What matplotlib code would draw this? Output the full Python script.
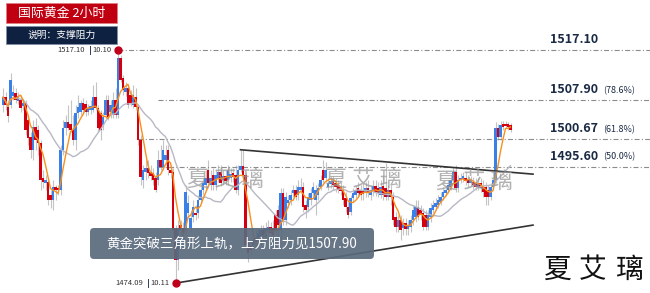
import matplotlib
matplotlib.use('Agg')
import matplotlib.pyplot as plt
from matplotlib.patches import Rectangle, FancyBboxPatch
import numpy as np
import pandas as pd

plt.rcParams['font.family'] = ['Noto Sans CJK SC', 'DejaVu Sans']

## 2-hour gold candles (price, USD)
opens = [
    1506.9, 1508.4, 1506.6, 1506.9, 1508.6, 1509.2, 1507.7, 1507.9, 1506.8, 1507.3,
    1504.2, 1501.1, 1498.7, 1502.9, 1502.4, 1500.0, 1493.5, 1492.6, 1492.7, 1490.4,
    1489.4, 1491.8, 1491.6, 1491.3, 1498.7, 1502.7, 1503.8, 1503.5, 1502.4, 1500.5,
    1505.5, 1505.7, 1507.3, 1507.1, 1505.7, 1506.0, 1506.0, 1508.4, 1506.4, 1505.5,
    1503.3, 1505.1, 1507.9, 1505.7, 1505.1, 1507.9, 1505.1, 1515.6, 1511.9, 1509.4,
    1510.1, 1508.8, 1506.9, 1508.4, 1506.6, 1500.5, 1493.1, 1494.6, 1495.3, 1494.6,
    1494.4, 1493.5, 1493.1, 1496.8, 1495.5, 1496.8, 1498.7, 1495.0, 1494.6, 1484.3,
    1478.4, 1484.8, 1484.3, 1483.9, 1487.0, 1484.3, 1486.3, 1487.0, 1487.0, 1489.4,
    1491.3, 1492.2, 1495.0, 1492.2, 1494.0, 1492.2, 1493.5, 1494.6, 1493.1, 1493.9,
    1493.1, 1493.5, 1494.4, 1494.0, 1491.3, 1495.0, 1495.7, 1494.0, 1481.5, 1480.9,
    1481.1, 1482.4, 1482.0, 1482.6, 1483.9, 1482.6, 1483.5, 1484.5, 1484.3, 1486.7,
    1487.6, 1483.9, 1490.7, 1485.7, 1488.9, 1489.4, 1490.7, 1491.3, 1490.4, 1491.3,
    1491.8, 1488.5, 1488.1, 1489.4, 1490.7, 1489.4, 1490.4, 1491.8, 1495.0, 1493.5,
    1491.8, 1492.4, 1492.9, 1492.6, 1492.2, 1491.8, 1491.3, 1489.8, 1488.1, 1487.2,
    1489.8, 1490.4, 1491.6, 1491.3, 1491.3, 1490.7, 1491.6, 1490.4, 1490.9, 1492.0,
    1491.6, 1490.4, 1492.0, 1491.6, 1490.0, 1491.3, 1490.0, 1486.3, 1484.5, 1485.7,
    1484.3, 1485.2, 1484.1, 1484.5, 1485.7, 1486.3, 1488.1, 1487.6, 1487.0, 1486.7,
    1484.5, 1486.3, 1487.6, 1488.1, 1488.5, 1489.1, 1490.0, 1490.7, 1491.3, 1491.8,
    1493.1, 1494.6, 1491.6, 1493.1, 1493.3, 1493.5, 1493.1, 1492.6, 1492.7, 1492.6,
    1491.8, 1492.6, 1491.8, 1491.8, 1491.3, 1490.0, 1491.8, 1493.1, 1502.7, 1501.1,
    1503.5, 1503.5, 1503.5, 1503.3]

closes = [
    1508.4, 1506.9, 1504.9, 1511.6, 1509.4, 1507.9, 1508.6, 1506.4, 1507.3, 1502.4,
    1500.9, 1498.7, 1502.9, 1500.5, 1500.0, 1493.1, 1492.7, 1493.1, 1489.4, 1489.4,
    1491.8, 1491.3, 1491.3, 1498.7, 1502.7, 1503.8, 1502.7, 1502.4, 1500.5, 1505.5,
    1506.6, 1507.3, 1506.0, 1505.7, 1506.4, 1506.8, 1508.4, 1506.4, 1502.7, 1502.4,
    1504.7, 1507.9, 1504.7, 1506.9, 1507.9, 1505.1, 1515.6, 1511.6, 1509.7, 1510.1,
    1506.9, 1507.3, 1508.8, 1506.6, 1500.5, 1493.7, 1495.0, 1495.3, 1494.4, 1493.9,
    1493.1, 1491.3, 1496.8, 1495.5, 1498.7, 1497.7, 1495.0, 1494.4, 1483.9, 1478.4,
    1484.3, 1483.9, 1483.3, 1490.9, 1488.9, 1486.1, 1488.1, 1486.7, 1489.4, 1491.3,
    1492.6, 1493.5, 1492.6, 1493.5, 1492.2, 1494.0, 1494.6, 1492.6, 1493.9, 1492.9,
    1495.0, 1494.2, 1493.7, 1491.3, 1495.0, 1495.7, 1494.0, 1481.1, 1479.6, 1480.2,
    1482.0, 1481.7, 1483.3, 1483.9, 1482.6, 1484.3, 1484.5, 1483.3, 1483.0, 1483.9,
    1484.8, 1490.7, 1485.7, 1490.0, 1489.4, 1490.4, 1491.3, 1490.0, 1491.8, 1491.8,
    1488.1, 1487.6, 1490.0, 1490.7, 1491.8, 1491.3, 1491.6, 1493.1, 1493.1, 1495.0,
    1492.6, 1492.9, 1492.2, 1491.8, 1491.3, 1491.1, 1489.4, 1488.1, 1486.7, 1489.8,
    1490.7, 1491.3, 1490.7, 1490.4, 1490.5, 1491.6, 1490.7, 1491.3, 1492.0, 1490.9,
    1490.7, 1491.8, 1490.4, 1490.0, 1491.3, 1490.0, 1485.7, 1484.5, 1485.7, 1483.9,
    1485.2, 1484.1, 1484.8, 1485.7, 1487.6, 1488.1, 1486.3, 1486.7, 1484.5, 1484.5,
    1486.7, 1488.0, 1488.5, 1488.9, 1489.4, 1490.0, 1490.9, 1491.3, 1492.2, 1493.1,
    1494.6, 1491.6, 1493.1, 1493.5, 1493.9, 1492.9, 1492.6, 1493.1, 1492.2, 1491.8,
    1492.6, 1491.6, 1490.9, 1490.0, 1490.0, 1491.8, 1493.1, 1502.7, 1501.1, 1503.3,
    1502.9, 1503.1, 1502.9, 1502.4]

highs = [
    1510.1, 1509.4, 1507.9, 1512.9, 1510.6, 1510.1, 1509.4, 1508.8, 1507.9, 1507.9,
    1505.1, 1502.0, 1504.2, 1504.6, 1503.3, 1500.5, 1495.0, 1494.0, 1493.5, 1491.3,
    1493.1, 1492.2, 1492.2, 1499.6, 1504.2, 1505.1, 1506.9, 1507.9, 1505.1, 1506.9,
    1508.8, 1507.9, 1508.2, 1507.9, 1507.1, 1507.9, 1510.6, 1511.2, 1506.9, 1506.0,
    1505.7, 1508.8, 1508.8, 1507.9, 1509.4, 1510.1, 1517.1, 1516.2, 1512.5, 1511.2,
    1510.6, 1509.7, 1510.6, 1510.1, 1506.9, 1501.4, 1495.9, 1496.8, 1496.8, 1495.9,
    1495.3, 1494.6, 1498.7, 1499.6, 1500.5, 1499.6, 1499.6, 1495.9, 1495.3, 1484.8,
    1485.7, 1485.7, 1485.4, 1492.2, 1490.4, 1487.6, 1489.4, 1488.5, 1490.4, 1492.6,
    1493.5, 1495.0, 1496.8, 1495.0, 1495.3, 1495.0, 1495.9, 1495.9, 1495.0, 1495.0,
    1495.9, 1495.3, 1495.3, 1495.9, 1495.9, 1498.7, 1498.7, 1494.6, 1482.4, 1482.0,
    1483.0, 1483.9, 1484.3, 1484.8, 1484.8, 1485.4, 1485.7, 1485.4, 1485.7, 1487.6,
    1488.5, 1491.6, 1491.6, 1490.9, 1490.4, 1491.3, 1492.2, 1492.2, 1493.1, 1493.5,
    1492.7, 1489.4, 1490.7, 1491.6, 1492.7, 1492.2, 1492.6, 1494.0, 1496.8, 1496.4,
    1493.5, 1493.9, 1493.9, 1493.5, 1493.1, 1492.7, 1492.2, 1490.9, 1489.4, 1490.4,
    1491.6, 1492.2, 1492.7, 1492.2, 1492.6, 1492.7, 1493.1, 1492.2, 1493.1, 1493.1,
    1492.7, 1493.1, 1494.0, 1496.3, 1492.2, 1492.2, 1490.9, 1487.2, 1486.7, 1486.7,
    1486.1, 1486.1, 1485.7, 1486.7, 1488.5, 1489.4, 1489.4, 1488.5, 1488.0, 1487.6,
    1487.6, 1488.9, 1489.4, 1489.8, 1490.4, 1490.9, 1491.8, 1492.2, 1493.1, 1494.0,
    1495.5, 1495.9, 1494.0, 1494.4, 1494.6, 1494.6, 1494.0, 1493.9, 1493.7, 1493.5,
    1493.5, 1493.5, 1493.1, 1492.7, 1492.2, 1492.6, 1494.6, 1503.8, 1503.5, 1504.0,
    1504.0, 1504.0, 1503.8, 1503.6]

lows = [
    1505.7, 1506.0, 1503.8, 1506.4, 1507.9, 1507.3, 1507.1, 1505.7, 1506.0, 1501.4,
    1499.6, 1497.2, 1496.8, 1498.7, 1497.7, 1491.3, 1491.6, 1491.3, 1488.5, 1488.0,
    1487.6, 1489.4, 1490.4, 1490.4, 1497.7, 1501.4, 1502.4, 1502.0, 1499.6, 1498.7,
    1504.6, 1505.1, 1505.3, 1504.9, 1505.1, 1505.3, 1505.7, 1506.0, 1502.0, 1500.5,
    1502.4, 1504.6, 1504.2, 1504.6, 1504.6, 1504.6, 1504.6, 1511.2, 1508.8, 1508.6,
    1506.4, 1506.8, 1506.4, 1506.0, 1499.6, 1492.2, 1491.6, 1493.1, 1493.5, 1493.1,
    1492.2, 1490.9, 1492.2, 1495.0, 1495.0, 1495.9, 1494.0, 1493.5, 1483.0, 1474.09,
    1476.5, 1483.0, 1482.0, 1483.0, 1486.1, 1483.5, 1485.4, 1485.7, 1486.1, 1488.9,
    1490.4, 1491.3, 1491.6, 1491.3, 1491.3, 1491.3, 1492.7, 1492.0, 1492.2, 1492.2,
    1492.2, 1492.7, 1492.7, 1490.7, 1490.4, 1494.6, 1493.5, 1480.2, 1478.0, 1479.3,
    1480.2, 1480.5, 1481.1, 1481.1, 1481.7, 1481.1, 1482.4, 1482.0, 1481.1, 1483.0,
    1481.1, 1482.0, 1484.8, 1484.8, 1488.0, 1488.5, 1490.0, 1489.4, 1489.4, 1490.7,
    1487.2, 1486.1, 1487.2, 1488.5, 1490.0, 1486.7, 1489.4, 1491.3, 1492.6, 1492.7,
    1491.3, 1491.6, 1491.3, 1490.9, 1490.7, 1490.4, 1488.5, 1487.2, 1486.1, 1486.7,
    1489.1, 1489.8, 1490.0, 1489.4, 1489.4, 1490.0, 1490.0, 1489.4, 1490.2, 1490.2,
    1490.0, 1489.8, 1489.4, 1489.4, 1489.4, 1488.5, 1484.8, 1483.5, 1483.5, 1482.0,
    1483.0, 1483.0, 1483.0, 1483.5, 1484.8, 1485.4, 1485.7, 1485.7, 1483.9, 1483.9,
    1483.9, 1485.4, 1487.0, 1487.6, 1488.0, 1488.5, 1489.4, 1490.2, 1490.7, 1491.3,
    1492.6, 1490.9, 1490.9, 1492.6, 1492.7, 1492.2, 1491.8, 1492.0, 1491.5, 1491.3,
    1491.3, 1490.9, 1490.0, 1488.5, 1488.5, 1489.4, 1491.3, 1492.6, 1500.5, 1500.5,
    1502.4, 1502.7, 1502.4, 1502.0]

## Fibonacci / resistance levels
fib_levels = [1517.10, 1507.90, 1500.67, 1495.60]
fib_pcts = ['', '(78.6%)', '(61.8%)', '(50.0%)']
fib_start = [46, 62, 54, 62]

## extreme points
peak_price, peak_date = 1517.10, '10.10'
low_price, low_date = 1474.09, '10.11'

## triangle trend lines (candle index, price)
upper_x, upper_y = [95, 212], [1498.7, 1494.2]
lower_x, lower_y = [69, 212], [1474.09, 1484.8]

title_text = '国际黄金 2小时'
note_text = '说明：支撑阻力'
caption = '黄金突破三角形上轨，上方阻力见1507.90'
mark = '夏艾璃'

df = pd.DataFrame({'open': opens, 'high': highs, 'low': lows, 'close': closes})
df['ma_fast'] = df['close'].rolling(5, min_periods=1).mean()
df['ma_slow'] = df['close'].rolling(20, min_periods=1).mean()
idx = np.arange(len(df))

fig = plt.figure(figsize=(6.5, 2.93), dpi=100)
ax = fig.add_axes([0, 0, 1, 1])
ax.set_xlim(-1.2, 258.8)
ax.set_ylim(1472.27, 1526.33)
ax.axis('off')

## wicks and bodies
ax.vlines(idx, df['low'], df['high'], color='#c4c4c4', lw=0.8, zorder=1)
up = df['close'] >= df['open']
colors = np.where(up, '#3a80e6', '#d4000f')
body = (df['close'] - df['open']).to_numpy()
body = np.where(np.abs(body) < 0.35, np.where(body >= 0, 0.35, -0.35), body)
ax.bar(idx, body, bottom=df['open'], width=0.85, color=colors, linewidth=0, zorder=2)

## moving averages
ax.plot(idx, df['ma_slow'], color='#b8b8c4', lw=1.0, zorder=3)
ax.plot(idx, df['ma_fast'], color='#f7901e', lw=1.0, zorder=3)

## level lines and labels
for lvl, pct, st in zip(fib_levels, fib_pcts, fib_start):
    ax.plot([st, 260], [lvl, lvl], color='#8c8c8c', lw=0.8,
            dashes=(4.5, 2, 1, 2), zorder=1)
    ax.annotate('{:.2f}'.format(lvl), xy=(218.8, lvl), xytext=(0, 5),
                textcoords='offset points', fontsize=9, fontweight='bold',
                color='#1b2a44', va='baseline', ha='left')
    if pct:
        ax.annotate(pct, xy=(240, lvl), xytext=(0, 5),
                    textcoords='offset points', fontsize=6.5,
                    color='#1b2a44', va='baseline', ha='left')

## trend lines
ax.plot(upper_x, upper_y, color='#333333', lw=1.2, zorder=4)
ax.plot(lower_x, lower_y, color='#333333', lw=1.2, zorder=4)

## peak / low markers
peak_i = int(np.argmax(df['high']))
low_i = int(np.argmin(df['low']))
for i, p, d in [(peak_i, peak_price, peak_date), (low_i, low_price, low_date)]:
    ax.plot(i, p, 'o', color='#c0001a', ms=5, zorder=6)
    ax.annotate(d, xy=(i, p), xytext=(-4.5, 0), textcoords='offset points',
                fontsize=5.5, color='#333333', ha='right', va='center')
    ax.annotate('|', xy=(i, p), xytext=(-19.5, 0), textcoords='offset points',
                fontsize=6, fontweight='bold', color='#1b2a44',
                ha='center', va='center', family='DejaVu Sans')
    ax.annotate('{:.2f}'.format(p), xy=(i, p), xytext=(-23.5, 0),
                textcoords='offset points', fontsize=5.5, color='#333333',
                ha='right', va='center')

## overlay in pixel space for boxes and watermarks
ov = fig.add_axes([0, 0, 1, 1], zorder=5)
ov.set_xlim(0, 650)
ov.set_ylim(293, 0)
ov.axis('off')
ov.patch.set_alpha(0)

ov.add_patch(Rectangle((6, 3), 111, 20, facecolor='#c00010', edgecolor='#e08080', lw=0.6))
ov.text(61.5, 13.5, title_text, color='white', fontsize=9.3, ha='center', va='center')
ov.add_patch(Rectangle((6, 26), 111, 18, facecolor='#0e2140', edgecolor='#8090a8', lw=0.6))
ov.text(61.5, 35, note_text, color='white', fontsize=7, ha='center', va='center')

for cx, cy in [(225, 180), (363, 180), (474, 182)]:
    ov.text(cx, cy, ' '.join(mark), color='#999999', alpha=0.75, fontsize=16,
            ha='center', va='center', zorder=4)

ov.add_patch(FancyBboxPatch((90, 228), 284, 31, boxstyle='round,pad=0,rounding_size=4',
                            facecolor='#5a6a7d', edgecolor='none', alpha=0.92, zorder=5))
ov.text(232, 244, caption, color='white', fontsize=9.7, ha='center', va='center', zorder=6)

for cx, ch in zip([558, 593, 629], mark):
    ov.text(cx, 270, ch, color='#111111', fontsize=20, ha='center', va='center')

fig.savefig('out.png', dpi=100)
